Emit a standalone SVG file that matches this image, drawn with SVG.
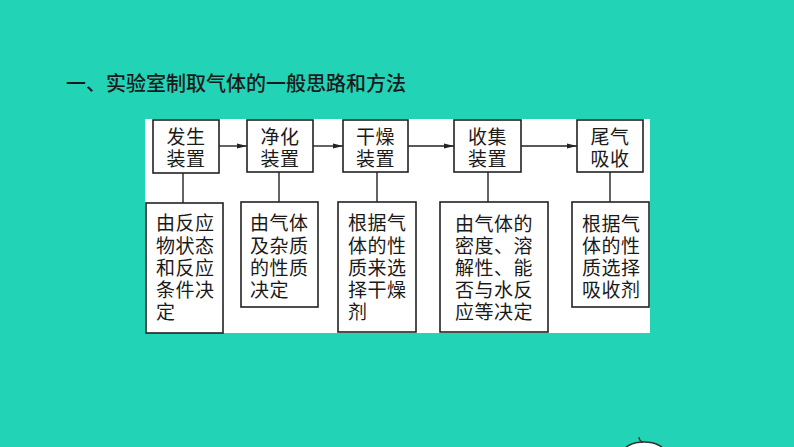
<svg xmlns="http://www.w3.org/2000/svg" width="794" height="447" viewBox="0 0 794 447">
<defs>
<marker id="ah" markerWidth="10" markerHeight="6" refX="10" refY="3" orient="auto" markerUnits="userSpaceOnUse">
<path d="M0,0.5 L10,3 L0,5.5 Z" fill="#222"/>
</marker>
<style>
.bg{fill:#23d3b5}
.box{fill:#fff;stroke:#222;stroke-width:1.6}
.ln{stroke:#222;stroke-width:1.4;fill:none}
.t{font-family:"Noto Sans CJK SC","Noto Sans CJK JP",sans-serif;font-size:19px;letter-spacing:0.5px;fill:#1a1a1a}
.c{text-anchor:middle}
.title{font-family:"Noto Sans CJK SC","Noto Sans CJK JP",sans-serif;font-size:20px;font-weight:500;fill:#1a1a1a}
</style>
</defs>
<rect class="bg" x="0" y="0" width="794" height="447"/>
<rect x="145" y="119" width="505" height="214" fill="#fff"/>
<text class="title" x="66" y="91">一、实验室制取气体的一般思路和方法</text>

<g id="connectors">
<line class="ln" x1="219" y1="146" x2="247" y2="146" marker-end="url(#ah)"/>
<line class="ln" x1="313" y1="146" x2="343" y2="146" marker-end="url(#ah)"/>
<line class="ln" x1="408" y1="146" x2="454" y2="146" marker-end="url(#ah)"/>
<line class="ln" x1="521" y1="146" x2="577" y2="146" marker-end="url(#ah)"/>
<line class="ln" x1="183" y1="173" x2="183" y2="203"/>
<line class="ln" x1="279" y1="172" x2="279" y2="202"/>
<line class="ln" x1="377" y1="172" x2="377" y2="202"/>
<line class="ln" x1="488" y1="172" x2="488" y2="202"/>
<line class="ln" x1="610" y1="172" x2="610" y2="202"/>
</g>

<g id="n1">
<rect class="box" x="153" y="120" width="66" height="53"/>
<text class="t c" x="186" y="144">发生</text>
<text class="t c" x="186" y="166">装置</text>
</g>
<g id="n2">
<rect class="box" x="247" y="120" width="66" height="52"/>
<text class="t c" x="280" y="144">净化</text>
<text class="t c" x="280" y="166">装置</text>
</g>
<g id="n3">
<rect class="box" x="343" y="120" width="65" height="52"/>
<text class="t c" x="375.5" y="144">干燥</text>
<text class="t c" x="375.5" y="166">装置</text>
</g>
<g id="n4">
<rect class="box" x="454" y="120" width="67" height="52"/>
<text class="t c" x="487.5" y="144">收集</text>
<text class="t c" x="487.5" y="166">装置</text>
</g>
<g id="n5">
<rect class="box" x="577" y="120" width="66" height="52"/>
<text class="t c" x="610" y="144">尾气</text>
<text class="t c" x="610" y="166">吸收</text>
</g>

<g id="d1">
<rect class="box" x="146" y="203" width="77" height="130"/>
<text class="t" x="156" y="230">由反应</text>
<text class="t" x="156" y="253">物状态</text>
<text class="t" x="156" y="275">和反应</text>
<text class="t" x="156" y="297">条件决</text>
<text class="t" x="156" y="319">定</text>
</g>
<g id="d2">
<rect class="box" x="241" y="202" width="77" height="105"/>
<text class="t" x="250" y="230">由气体</text>
<text class="t" x="250" y="253">及杂质</text>
<text class="t" x="250" y="275">的性质</text>
<text class="t" x="250" y="297">决定</text>
</g>
<g id="d3">
<rect class="box" x="338" y="202" width="78" height="130"/>
<text class="t" x="348" y="230">根据气</text>
<text class="t" x="348" y="253">体的性</text>
<text class="t" x="348" y="275">质来选</text>
<text class="t" x="348" y="297">择干燥</text>
<text class="t" x="348" y="319">剂</text>
</g>
<g id="d4">
<rect class="box" x="440" y="202" width="108" height="130"/>
<text class="t" x="455" y="231">由气体的</text>
<text class="t" x="455" y="253">密度、溶</text>
<text class="t" x="455" y="275">解性、能</text>
<text class="t" x="455" y="297">否与水反</text>
<text class="t" x="455" y="319">应等决定</text>
</g>
<g id="d5">
<rect class="box" x="572" y="202" width="77" height="105"/>
<text class="t" x="582" y="231">根据气</text>
<text class="t" x="582" y="253">体的性</text>
<text class="t" x="582" y="275">质选择</text>
<text class="t" x="582" y="297">吸收剂</text>
</g>

<ellipse cx="644" cy="453" rx="21" ry="11" fill="#fff" stroke="#333" stroke-width="1.5"/>
<path d="M639,437 Q639,441 643,442" fill="none" stroke="#333" stroke-width="1.3"/>
</svg>
